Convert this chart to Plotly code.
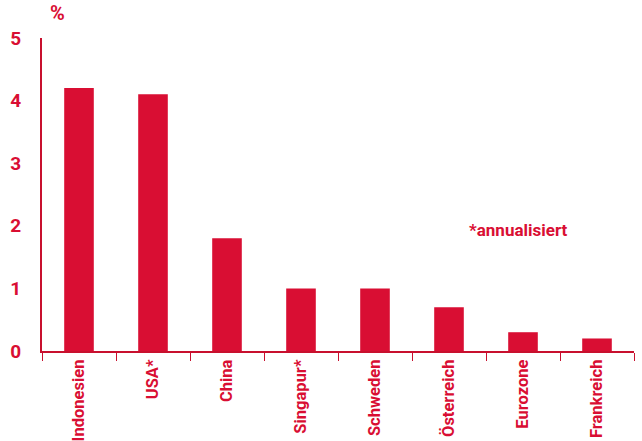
import plotly.graph_objects as go

categories = ["Indonesien", "USA*", "China", "Singapur*", "Schweden", "Österreich", "Eurozone", "Frankreich"]
values = [4.2, 4.1, 1.8, 1.0, 1.0, 0.7, 0.3, 0.2]
y_ticks = [0, 1, 2, 3, 4, 5]

RED = "#d90e33"
FONT = "Liberation Sans Narrow, Roboto, Arial Narrow, sans-serif"

fig = go.Figure(go.Bar(x=categories, y=values, marker=dict(color=RED, line=dict(width=0)), width=0.4))

fig.update_layout(
    width=642, height=441,
    margin=dict(l=42, r=8, t=38, b=90),
    paper_bgcolor="white", plot_bgcolor="white",
    showlegend=False,
    font=dict(family=FONT, color=RED, size=15),
    bargap=0.6,
)
fig.update_xaxes(
    showline=True, linecolor="#c8102e", linewidth=2, automargin=False,
    ticks="outside", tickson="boundaries", ticklen=8, tickcolor="#c8102e", tickwidth=1,
    tickangle=-90, tickfont=dict(family=FONT, size=16.5, color=RED, weight="bold"),
    showgrid=False, range=[-0.5, 7.5],
)
fig.update_yaxes(
    range=[0, 5], tickvals=y_ticks, showline=True, linecolor="#c8102e", linewidth=2,
    ticks="", showgrid=False, zeroline=False, automargin=False,
    tickfont=dict(family=FONT, size=19, color=RED, weight="bold"),
    ticklabelstandoff=15,
)
fig.add_annotation(text="<b>%</b>", xref="paper", yref="paper", x=0.026, y=1.035,
                   xanchor="center", yanchor="bottom", showarrow=False,
                   font=dict(family=FONT, size=20, color=RED))
fig.add_annotation(text="<b>*annualisiert</b>", xref="paper", yref="paper", x=0.718, y=0.385,
                   xanchor="left", yanchor="middle", showarrow=False,
                   font=dict(family=FONT, size=17, color=RED))
fig.write_html("out.html")
